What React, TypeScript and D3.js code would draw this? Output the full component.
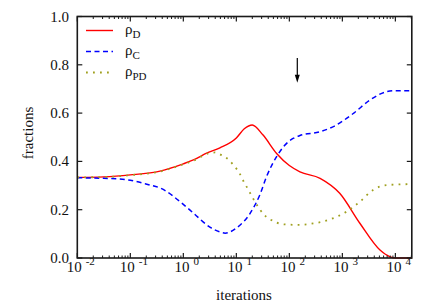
import React from "react";
import * as d3 from "d3";

// ---- data (x given as log10 of iterations) ----
const rhoDExp = [-2, -1.5, -1, -0.44, 0, 0.19, 0.45, 0.69, 1.0, 1.15, 1.3, 1.5, 1.76, 2.0, 2.2, 2.58, 2.95, 3.33, 3.71, 3.9, 4.0, 4.31];
const rhoDVal = [0.334, 0.336, 0.344, 0.36, 0.39, 0.406, 0.435, 0.456, 0.497, 0.535, 0.551, 0.51, 0.433, 0.383, 0.357, 0.33, 0.268, 0.144, 0.033, 0.005, 0, 0];

const rhoCExp = [-2, -1.5, -1, -0.63, -0.44, 0, 0.19, 0.5, 0.69, 0.79, 1.0, 1.26, 1.45, 1.57, 1.76, 1.89, 2.08, 2.2, 2.58, 2.83, 3.21, 3.52, 3.84, 4.0, 4.31];
const rhoCVal = [0.332, 0.33, 0.322, 0.302, 0.29, 0.222, 0.186, 0.128, 0.108, 0.103, 0.124, 0.185, 0.265, 0.337, 0.42, 0.461, 0.496, 0.507, 0.523, 0.544, 0.599, 0.654, 0.689, 0.693, 0.693];

const rhoPDExp = [-2, -1.5, -1, -0.44, 0, 0.19, 0.47, 0.6, 0.72, 0.86, 0.96, 1.06, 1.13, 1.21, 1.29, 1.37, 1.45, 1.56, 1.7, 1.84, 2.01, 2.17, 2.45, 2.77, 3.08, 3.33, 3.58, 3.84, 4.31];
const rhoPDVal = [0.334, 0.335, 0.343, 0.358, 0.388, 0.403, 0.433, 0.437, 0.426, 0.406, 0.381, 0.351, 0.32, 0.289, 0.257, 0.226, 0.199, 0.171, 0.153, 0.141, 0.138, 0.137, 0.143, 0.16, 0.192, 0.233, 0.282, 0.302, 0.306];

const xTickExps = [-2, -1, 0, 1, 2, 3, 4];
const yTicks = [0, 0.2, 0.4, 0.6, 0.8, 1.0];
const arrowExp = [2.15];
const arrowFrom = [0.828];
const arrowTo = [0.726];

const legendLabels = [
  { base: "ρ", sub: "D" },
  { base: "ρ", sub: "C" },
  { base: "ρ", sub: "PD" },
];

const W = 447, H = 304;
const L = 77.3, R = 411.8, T = 16.5, B = 258;
const FONT = "Liberation Serif, Times New Roman, DejaVu Serif, serif";
const AX = "#1a1a1a";

export default function App() {
  const x = d3.scaleLog().domain([0.01, Math.pow(10, 4.31)]).range([L, R]);
  const y = d3.scaleLinear().domain([0, 1]).range([B, T]);

  const mk = (ex: number[], vals: number[]) =>
    d3.line<number>()
      .x((_, i) => x(Math.pow(10, ex[i])))
      .y((v) => y(v))
      .curve(d3.curveMonotoneX)(vals) || "";

  const series = [
    { d: mk(rhoDExp, rhoDVal), color: "#ff0000", dash: undefined as string | undefined, width: 1.4 },
    { d: mk(rhoCExp, rhoCVal), color: "#0000ff", dash: "5,3.5", width: 1.5 },
    { d: mk(rhoPDExp, rhoPDVal), color: "#a0a020", dash: "1.8,5.2", width: 1.8 },
  ];

  const minor: number[] = [];
  for (let e = -2; e <= 4; e++) {
    for (let k = 2; k <= 9; k++) {
      const v = k * Math.pow(10, e);
      if (v <= Math.pow(10, 4.31)) minor.push(v);
    }
  }

  const axp = x(Math.pow(10, arrowExp[0]));
  const txt: React.CSSProperties = { fontFamily: FONT };

  return (
    <svg width={W} height={H} style={{ position: "absolute", left: 0, top: 0, background: "#fff", fontFamily: FONT }}>
      <rect width={W} height={H} fill="#fff" />
      <g fill="none">
        {series.map((s, i) => (
          <path key={i} d={s.d} stroke={s.color} strokeWidth={s.width} strokeDasharray={s.dash} />
        ))}
      </g>
      <rect x={L} y={T} width={R - L} height={B - T} fill="none" stroke={AX} strokeWidth={1.6} />
      {xTickExps.map((e) => {
        const px = x(Math.pow(10, e));
        return (
          <g key={"xt" + e}>
            <line x1={px} x2={px} y1={B} y2={B - 5} stroke={AX} strokeWidth={1.2} />
            <line x1={px} x2={px} y1={T} y2={T + 5} stroke={AX} strokeWidth={1.2} />
            <text x={px + 3.5} y={272} fontSize={15} textAnchor="middle" fill="#111" style={txt}>
              10<tspan dx={4} dy={-7} fontSize={11}>{e < 0 ? "-" + Math.abs(e) : String(e)}</tspan>
            </text>
          </g>
        );
      })}
      {minor.map((v, i) => {
        const px = x(v);
        return (
          <g key={"mt" + i}>
            <line x1={px} x2={px} y1={B} y2={B - 2.5} stroke={AX} strokeWidth={1} />
            <line x1={px} x2={px} y1={T} y2={T + 2.5} stroke={AX} strokeWidth={1} />
          </g>
        );
      })}
      {yTicks.map((v) => {
        const py = y(v);
        return (
          <g key={"yt" + v}>
            <line x1={L} x2={L + 5} y1={py} y2={py} stroke={AX} strokeWidth={1.2} />
            <line x1={R} x2={R - 5} y1={py} y2={py} stroke={AX} strokeWidth={1.2} />
            <text x={69} y={py + 5} fontSize={15} textAnchor="end" fill="#111" style={txt}>{v.toFixed(1)}</text>
          </g>
        );
      })}
      <text x={244} y={300} fontSize={15} textAnchor="middle" fill="#111" style={txt}>iterations</text>
      <text transform={`translate(33, 133) rotate(-90)`} fontSize={15} textAnchor="middle" fill="#111" style={txt}>fractions</text>
      {legendLabels.map((lab, i) => {
        const ly = 30.5 + i * 21;
        const s = series[i];
        return (
          <g key={"lg" + i}>
            <line x1={86} x2={113} y1={ly} y2={ly} stroke={s.color} strokeWidth={s.width} strokeDasharray={s.dash} />
            <text x={125} y={ly + 3} fontSize={15} fill="#111" style={txt}>
              {lab.base}<tspan dy={4} fontSize={11}>{lab.sub}</tspan>
            </text>
          </g>
        );
      })}
      <line x1={axp} x2={axp} y1={y(arrowFrom[0])} y2={y(arrowTo[0]) - 6} stroke="#000" strokeWidth={1.2} />
      <path d={`M${axp - 2.5},${y(arrowTo[0]) - 8} L${axp + 2.5},${y(arrowTo[0]) - 8} L${axp},${y(arrowTo[0])} Z`} fill="#000" />
    </svg>
  );
}
